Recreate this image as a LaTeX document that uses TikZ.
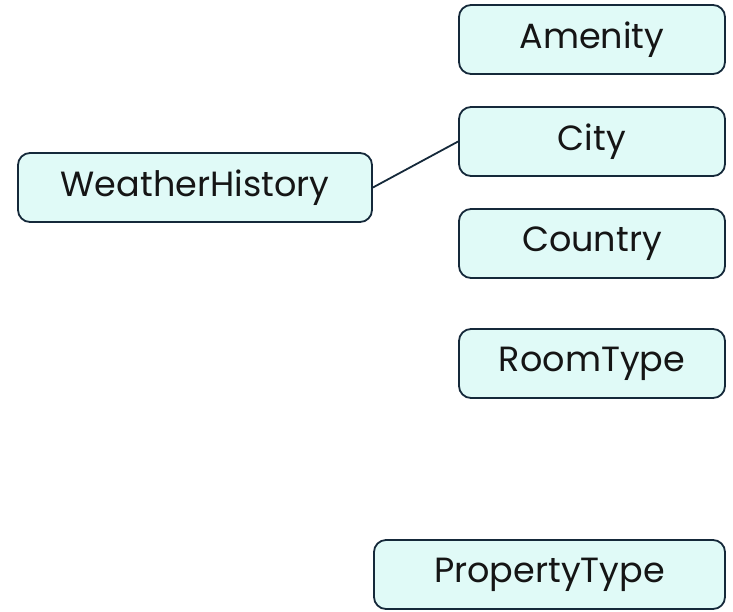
\documentclass[tikz,border=0pt]{standalone}
\usepackage{fontspec}
\setmainfont{Poppins}
\definecolor{boxfill}{HTML}{E0FAF7}
\definecolor{boxline}{HTML}{15293A}
\definecolor{textcol}{HTML}{151515}
\begin{document}
\begin{tikzpicture}[x=1pt,y=-1pt,
  entity/.style={draw=boxline, fill=boxfill, line width=1.8pt, rounded corners=12pt,
    minimum height=69pt, inner sep=0pt, text=textcol,
    font=\fontsize{35}{40}\selectfont},
  link/.style={draw=boxline, line width=1.8pt}]
\useasboundingbox (0,0) rectangle (733,611);
\node[entity, minimum width=266pt] (amenity) at (592,39.5) {Amenity};
\node[entity, minimum width=266pt] (city) at (592,141.5) {City};
\node[entity, minimum width=266pt] (country) at (592,243.5) {Country};
\node[entity, minimum width=266pt] (roomtype) at (592,363.5) {RoomType};
\node[entity, minimum width=354pt] (weather) at (195,187.5) {WeatherHistory};
\node[entity, minimum width=351pt] (property) at (549.5,574.5) {PropertyType};
\draw[link] (weather.east) -- (city.west);
\end{tikzpicture}
\end{document}
